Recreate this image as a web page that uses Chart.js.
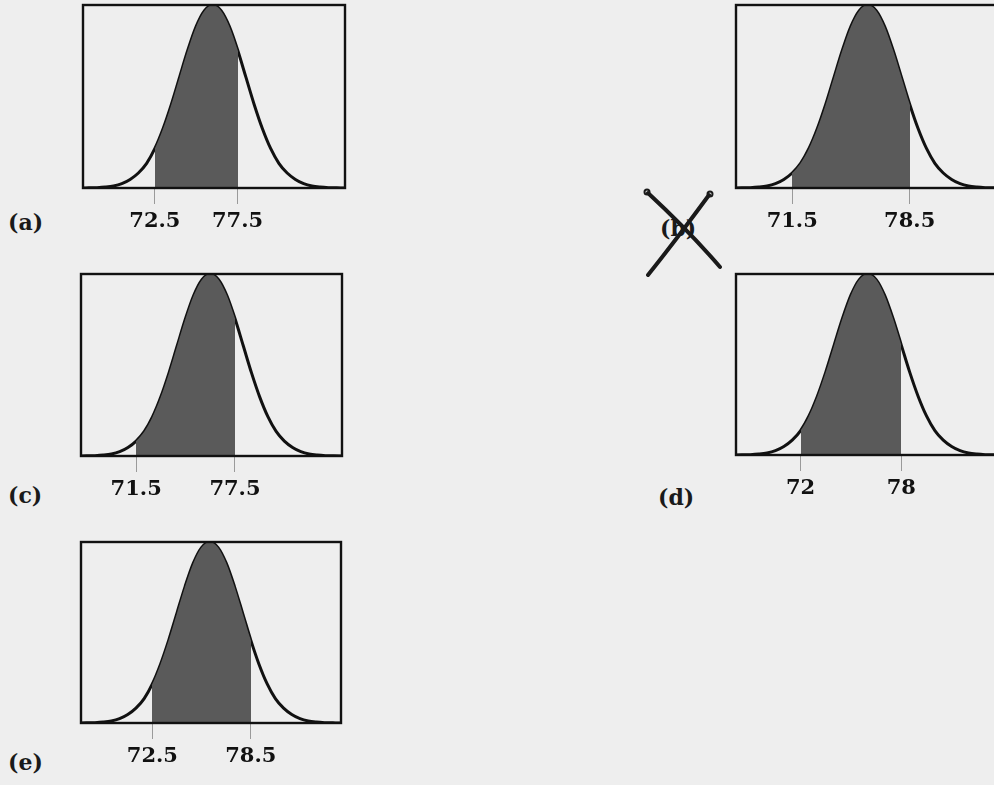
<!DOCTYPE html>
<html>
<head>
<meta charset="utf-8">
<script src="https://cdn.jsdelivr.net/npm/chart.js@4.4.0/dist/chart.umd.min.js"></script>
<style>
  html, body { margin: 0; padding: 0; }
  body {
    width: 994px;
    height: 785px;
    background: #eeeeee;
    position: relative;
    overflow: hidden;
    font-family: "DejaVu Serif", serif;
  }
  .wrap { position: absolute; }
  .lbl {
    position: absolute;
    font: bold 22px "DejaVu Serif", serif;
    color: #1a1a1a;
    line-height: 1;
    transform: translateY(-50%);
  }
  svg.mark { position: absolute; left: 0; top: 0; }
</style>
</head>
<body>

<div class="lbl" style="left:8px; top:222px;">(a)</div>
<div class="lbl" style="left:660px; top:228px;">(b)</div>
<div class="lbl" style="left:8px; top:495px;">(c)</div>
<div class="lbl" style="left:658px; top:497px;">(d)</div>
<div class="lbl" style="left:8px; top:762px;">(e)</div>

<svg class="mark" width="994" height="785">
  <g stroke="#1a1a1a" stroke-width="4" stroke-linecap="round" fill="none">
    <path d="M648 193 Q690 232 720 267" />
    <path d="M709 195 Q676 240 648 275" />
    <circle cx="647" cy="192" r="2.5" stroke-width="2" />
    <circle cx="710" cy="194" r="2.5" stroke-width="2" />
  </g>
</svg>

<div class="wrap" id="wa"><canvas id="pa"></canvas></div>
<div class="wrap" id="wb"><canvas id="pb"></canvas></div>
<div class="wrap" id="wc"><canvas id="pc"></canvas></div>
<div class="wrap" id="wd"><canvas id="pd"></canvas></div>
<div class="wrap" id="we"><canvas id="pe"></canvas></div>

<script>
// x grid (scores) and curve heights (peak = 1)
const xValues = [68, 68.5, 69, 69.5, 70, 70.5, 71, 71.5, 72, 72.5, 73, 73.5, 74, 74.5, 75, 75.5,
  76, 76.5, 77, 77.5, 78, 78.5, 79, 79.5, 80, 80.5, 81, 81.5, 82, 82.5, 83, 83.5, 84];
const curveHeights = [0.000, 0.001, 0.002, 0.005, 0.011, 0.024, 0.047, 0.082, 0.135, 0.216, 0.325,
  0.458, 0.607, 0.755, 0.883, 0.969, 1.000, 0.969, 0.883, 0.755, 0.607, 0.458, 0.325, 0.216,
  0.135, 0.082, 0.047, 0.024, 0.011, 0.005, 0.002, 0.001, 0.000];

// shaded interval of each panel
const panelIds = ["a", "b", "c", "d", "e"];
const lowerBounds = [72.5, 71.5, 71.5, 72, 72.5];
const upperBounds = [77.5, 78.5, 77.5, 78, 78.5];

// box position of each panel on the page: left, top, width, height
const boxes = {
  a: [83, 5, 262, 183],
  b: [736, 5, 266, 183],
  c: [81, 274, 261, 182],
  d: [736, 274, 266, 181],
  e: [81, 542, 260, 181],
};

const X_MIN = 68.15;
const X_MAX = 84;
const SHADE = "#5a5a5a";
const PAD = 3;
const AXIS_H = 50;

const framePlugin = {
  id: "frame",
  afterDraw(chart) {
    const { ctx, chartArea: a } = chart;
    ctx.save();
    ctx.strokeStyle = "#111";
    ctx.lineWidth = 2.4;
    ctx.strokeRect(a.left, a.top, a.right - a.left, a.bottom - a.top);
    ctx.restore();
  },
};

function makePanel(i) {
  const id = panelIds[i];
  const lo = lowerBounds[i];
  const hi = upperBounds[i];
  const [bx, by, bw, bh] = boxes[id];

  const wrap = document.getElementById("w" + id);
  wrap.style.left = bx - PAD + "px";
  wrap.style.top = by - PAD + "px";
  wrap.style.width = bw + 2 * PAD + "px";
  wrap.style.height = bh + PAD + AXIS_H + "px";

  const points = xValues.map((x, k) => ({ x: x, y: curveHeights[k] }));

  new Chart(document.getElementById("p" + id).getContext("2d"), {
    type: "line",
    data: {
      datasets: [
        {
          // shaded area between the two bounds
          data: points,
          borderWidth: 0,
          pointRadius: 0,
          cubicInterpolationMode: "monotone",
          fill: "origin",
          backgroundColor: function (context) {
            const chart = context.chart;
            const area = chart.chartArea;
            if (!area) return "rgba(0,0,0,0)";
            const xs = chart.scales.x;
            const w = area.right - area.left;
            const fa = Math.min(1, Math.max(0, (xs.getPixelForValue(lo) - area.left) / w));
            const fb = Math.min(1, Math.max(0, (xs.getPixelForValue(hi) - area.left) / w));
            const g = chart.ctx.createLinearGradient(area.left, 0, area.right, 0);
            g.addColorStop(0, "rgba(0,0,0,0)");
            g.addColorStop(fa, "rgba(0,0,0,0)");
            g.addColorStop(fa, SHADE);
            g.addColorStop(fb, SHADE);
            g.addColorStop(fb, "rgba(0,0,0,0)");
            g.addColorStop(1, "rgba(0,0,0,0)");
            return g;
          },
        },
        {
          // the curve itself
          data: points,
          borderColor: "#111",
          borderWidth: 3,
          pointRadius: 0,
          cubicInterpolationMode: "monotone",
          fill: false,
        },
      ],
    },
    options: {
      responsive: true,
      maintainAspectRatio: false,
      animation: false,
      events: [],
      layout: { padding: { left: PAD, right: PAD, top: PAD, bottom: 0 } },
      plugins: {
        legend: { display: false },
        tooltip: { enabled: false },
      },
      scales: {
        x: {
          type: "linear",
          min: X_MIN,
          max: X_MAX,
          afterBuildTicks: function (axis) {
            axis.ticks = [{ value: lo }, { value: hi }];
          },
          afterFit: function (axis) {
            axis.height = AXIS_H;
          },
          border: { display: false },
          grid: {
            drawOnChartArea: false,
            drawTicks: true,
            tickLength: 16,
            color: "#9a9a9a",
            lineWidth: 1,
          },
          ticks: {
            autoSkip: false,
            maxRotation: 0,
            padding: 5,
            color: "#111",
            font: { family: "DejaVu Serif", weight: "bold", size: 21 },
            callback: function (value) {
              return String(value);
            },
          },
        },
        y: {
          display: false,
          min: 0,
          max: 1,
        },
      },
    },
    plugins: [framePlugin],
  });
}

panelIds.forEach(function (id, i) {
  makePanel(i);
});
</script>
</body>
</html>
